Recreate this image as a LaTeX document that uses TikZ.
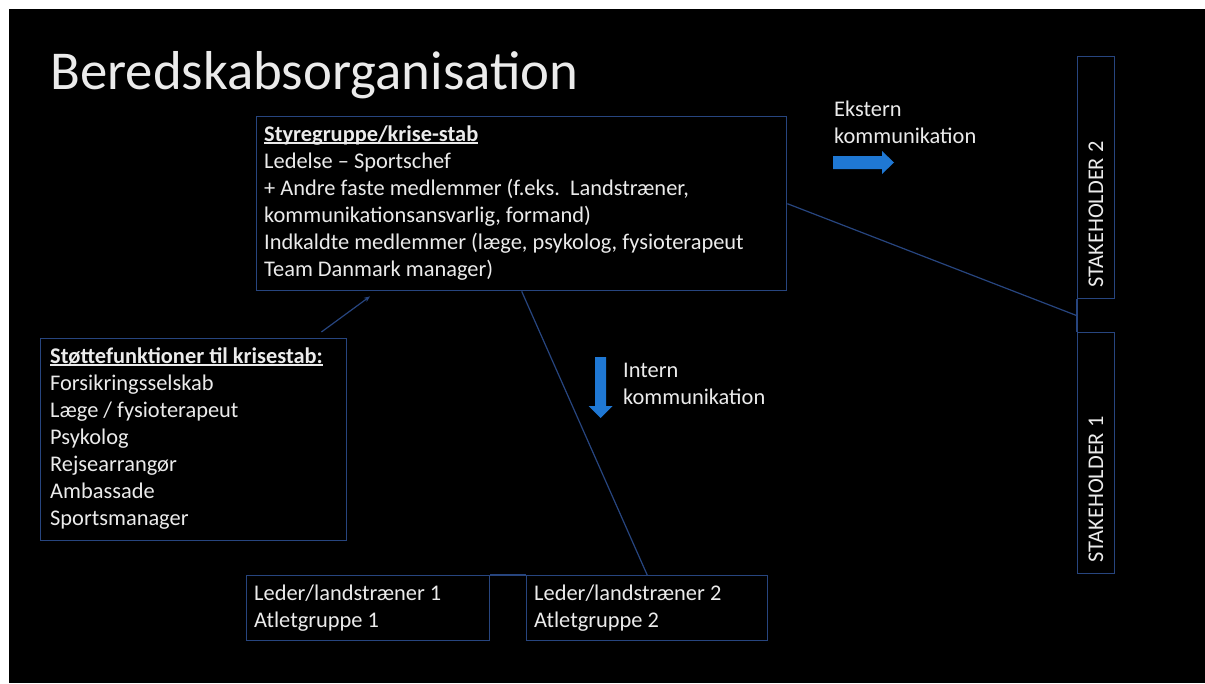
\documentclass[tikz,border=0pt]{standalone}
\usepackage{fontspec}
\setmainfont{Carlito}
\usetikzlibrary{arrows.meta,calc}
\definecolor{boxline}{HTML}{27457F}
\definecolor{txt}{HTML}{EBEBEB}
\definecolor{arrowblue}{HTML}{1F78D4}
% one text row inside a \vtop block
\newcommand\rowtxt[1]{\hbox{#1}}
% underline sitting just under the baseline
\newcommand\ulbox[1]{\setbox0\hbox{#1}\rlap{\rule[-2.6pt]{\wd0}{1.3pt}}\box0}

\begin{document}
\begin{tikzpicture}[x=1pt,y=-1pt,
  body/.style={font=\fontsize{22.4}{27}\selectfont, text=txt, inner sep=0pt, anchor=base west},
  frame/.style={draw=boxline, line width=1.4pt, inner sep=0pt, anchor=north west},
  link/.style={draw=boxline, line width=1.2pt},
  blockarrow/.style={fill=arrowblue, draw=none}]
\useasboundingbox (0,0) rectangle (1205,683);
\fill[white] (0,0) rectangle (1205,683);
\fill[black] (9,9) rectangle (1205,683);

% heading
\node[anchor=base west, inner sep=0pt, text=txt, font=\fontsize{54.8}{60}\selectfont] (title) at (50,89) {Beredskabsorganisation};

% frames
\node[frame, minimum width=530pt, minimum height=174pt] (main) at (256,116) {};
\node[frame, minimum width=306pt, minimum height=202pt] (support) at (40,338) {};
\node[frame, minimum width=243pt, minimum height=65pt] (lead1) at (246,575) {};
\node[frame, minimum width=241pt, minimum height=65pt] (lead2) at (526,575) {};
\node[frame, minimum width=37pt, minimum height=242pt] (s2) at (1077,56) {};
\node[frame, minimum width=37pt, minimum height=241pt] (s1) at (1077,332) {};

% texts
\node[body] (maintxt) at (264,141) {\vtop{%
  \rowtxt{\textbf{\ulbox{Styregruppe/krise-stab}}}
  \rowtxt{Ledelse – Sportschef}
  \rowtxt{+ Andre faste medlemmer (f.eks.\ \ Landstræner,}
  \rowtxt{kommunikationsansvarlig, formand)}
  \rowtxt{Indkaldte medlemmer (læge, psykolog, fysioterapeut}
  \rowtxt{Team Danmark manager)}}};
\node[body] (supporttxt) at (50,363) {\vtop{%
  \rowtxt{\textbf{\ulbox{Støttefunktioner til krisestab:}}}
  \rowtxt{Forsikringsselskab}
  \rowtxt{Læge / fysioterapeut}
  \rowtxt{Psykolog}
  \rowtxt{Rejsearrangør}
  \rowtxt{Ambassade}
  \rowtxt{Sportsmanager}}};
\node[body] (lead1txt) at (254,600) {\vtop{\rowtxt{Leder/landstræner 1}\rowtxt{Atletgruppe 1}}};
\node[body] (lead2txt) at (534,600) {\vtop{\rowtxt{Leder/landstræner 2}\rowtxt{Atletgruppe 2}}};
\node[body] (exttxt) at (834,116) {\vtop{\rowtxt{Ekstern}\rowtxt{kommunikation}}};
\node[body] (inttxt) at (623,377) {\vtop{\rowtxt{Intern}\rowtxt{kommunikation}}};
\node[body, rotate=90] (s2txt) at (1103,288) {STAKEHOLDER 2};
\node[body, rotate=90] (s1txt) at (1103,563) {STAKEHOLDER 1};

% connectors
\coordinate (junction) at ($(s2.south west)!0.5!(s1.north west)$);
\draw[link] (s2.south west) -- (s1.north west);
\draw[link] (main.east) -- (junction);
\draw[link] (main.south) -- (lead2.north);
\draw[link] (lead1.north east) -- (lead2.north west);
\draw[link, -{Stealth[length=6pt,width=5pt]}]
  ($(support.north east)+(-26,-6)$) -- ($(main.south west)+(114,5)$);

% block arrows
\fill[blockarrow] (833,156) -- (882,156) -- (882,151) -- (894,162.5) -- (882,174)
  -- (882,169) -- (833,169) -- cycle;
\fill[blockarrow] (595,357) -- (606,357) -- (606,406) -- (612.5,406) -- (600.5,418)
  -- (588.5,406) -- (595,406) -- cycle;
\end{tikzpicture}
\end{document}
